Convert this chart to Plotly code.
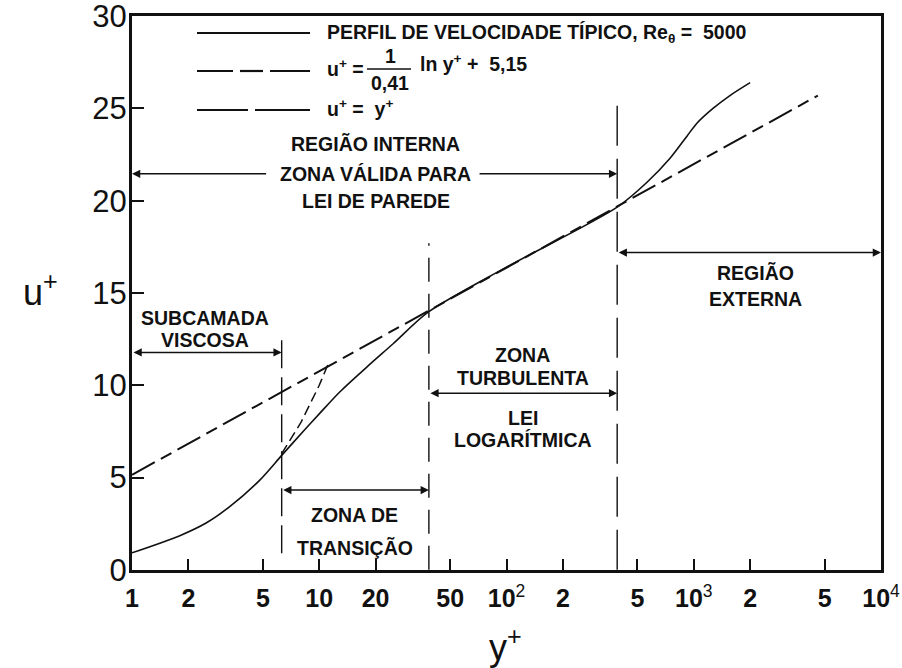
import math
import plotly.graph_objects as go

# ---------------- data ----------------
profile_yplus = [1, 1.8, 2.5, 3.3, 4.8, 6.3, 8.2, 10, 12.9, 18, 24.8, 38, 100,
                 390, 563, 747, 920, 1040, 1267, 1560, 2000]
profile_uplus = [0.92, 1.85, 2.55, 3.4, 4.85, 6.2, 7.5, 8.45, 9.65, 11.0, 12.25, 13.95, 16.4,
                 19.65, 21.0, 22.3, 23.5, 24.2, 25.0, 25.7, 26.4]

loglaw_yplus = [1, 4600]
loglaw_uplus = [5.15, 25.7]

linear_yplus = [6.3, 8, 10, 11.1]
linear_uplus = [6.3, 8, 10, 11.1]

boundary_yplus = [6.3, 38.5, 390]
boundary_bottom = [0.9, 0.0, 0.0]
boundary_top = [12.5, 17.7, 25.3]

x_tickvals = [1, 2, 5, 10, 20, 50, 100, 200, 500, 1000, 2000, 5000, 10000]
x_ticktext = ["<b>1</b>", "<b>2</b>", "<b>5</b>", "<b>10</b>", "<b>20</b>", "<b>50</b>",
              "<b>10</b><sup>2</sup>", "<b>2</b>", "<b>5</b>",
              "<b>10</b><sup>3</sup>", "<b>2</b>", "<b>5</b>", "<b>10</b><sup>4</sup>"]
y_tickvals = [0, 5, 10, 15, 20, 25, 30]

# double arrows: (start y+, end y+, u+)
region_arrows = [(1, 6.3, 11.78), (6.3, 38.5, 4.32), (38.5, 390, 9.57), (390, 10000, 17.19)]
# single arrows of the inner region (head y+, tail y+, u+)
inner_arrows = [(1, 5.3, 21.46), (390, 70.5, 21.46)]

region_labels = [
    ("REGIÃO INTERNA", 20, 23.08),
    ("ZONA VÁLIDA PARA", 20, 21.46),
    ("LEI DE PAREDE", 20, 20.0),
    ("SUBCAMADA", 2.45, 13.62),
    ("VISCOSA", 2.45, 12.43),
    ("ZONA DE", 15.5, 2.97),
    ("TRANSIÇÃO", 15.5, 1.19),
    ("ZONA", 122, 11.62),
    ("TURBULENTA", 122, 10.38),
    ("LEI", 122, 8.22),
    ("LOGARÍTMICA", 122, 7.03),
    ("REGIÃO", 2125, 16.1),
    ("EXTERNA", 2125, 14.7),
]

FONT = "Liberation Sans, Arial, sans-serif"
BLACK = "#111111"

# plot-area pixel geometry (for paper placement of the legend block)
L, R, T, B = 132, 881, 16, 570
W, H = 902, 668


def px(x):
    return (x - L) / (R - L)


def py(y):
    return (B - y) / (B - T)


fig = go.Figure()

fig.add_trace(go.Scatter(x=profile_yplus, y=profile_uplus, mode="lines",
                         line=dict(color=BLACK, width=1.6, shape="spline", smoothing=0.8),
                         showlegend=False, hoverinfo="skip"))
fig.add_trace(go.Scatter(x=loglaw_yplus, y=loglaw_uplus, mode="lines",
                         line=dict(color=BLACK, width=2, dash="26px,7px,12px,7px"),
                         showlegend=False, hoverinfo="skip"))
fig.add_trace(go.Scatter(x=linear_yplus, y=linear_uplus, mode="lines",
                         line=dict(color=BLACK, width=1.5, dash="10px,5px"),
                         showlegend=False, hoverinfo="skip"))

dashes = ["28px,9px", "24px,12px", "40px,13px"]
for xb, y0, y1, d in zip(boundary_yplus, boundary_bottom, boundary_top, dashes):
    fig.add_trace(go.Scatter(x=[xb, xb], y=[y0, y1], mode="lines",
                             line=dict(color=BLACK, width=1.4, dash=d),
                             showlegend=False, hoverinfo="skip"))

annotations = []
for x0, x1, u in region_arrows:
    annotations.append(dict(x=math.log10(x1), y=u, ax=math.log10(x0), ay=u,
                            xref="x", yref="y", axref="x", ayref="y", text="",
                            showarrow=True, arrowhead=2, arrowsize=1.1, arrowwidth=1.5,
                            arrowcolor=BLACK, arrowside="end+start"))
for xh, xt, u in inner_arrows:
    annotations.append(dict(x=math.log10(xh), y=u, ax=math.log10(xt), ay=u,
                            xref="x", yref="y", axref="x", ayref="y", text="",
                            showarrow=True, arrowhead=2, arrowsize=1.1, arrowwidth=1.5,
                            arrowcolor=BLACK))

for txt, xv, u in region_labels:
    annotations.append(dict(x=math.log10(xv), y=u, xref="x", yref="y", text=f"<b>{txt}</b>",
                            showarrow=False, xanchor="center", yanchor="middle",
                            font=dict(family=FONT, size=19.5, color=BLACK)))

# legend block (drawn manually)
leg_font = dict(family=FONT, size=19.5, color=BLACK)
annotations += [
    dict(x=px(325), y=py(33), xref="paper", yref="paper", xanchor="left", yanchor="middle",
         text="<b>PERFIL DE VELOCIDADE TÍPICO, Re<sub>θ</sub> =  5000</b>", showarrow=False, font=leg_font),
    dict(x=px(325), y=py(68), xref="paper", yref="paper", xanchor="left", yanchor="middle",
         text="<b>u<sup>+</sup> =</b>", showarrow=False, font=leg_font),
    dict(x=px(390), y=py(56), xref="paper", yref="paper", xanchor="center", yanchor="middle",
         text="<b>1</b>", showarrow=False, font=leg_font),
    dict(x=px(390), y=py(83), xref="paper", yref="paper", xanchor="center", yanchor="middle",
         text="<b>0,41</b>", showarrow=False, font=leg_font),
    dict(x=px(418), y=py(63), xref="paper", yref="paper", xanchor="left", yanchor="middle",
         text="<b>ln y<sup>+</sup> +  5,15</b>", showarrow=False, font=leg_font),
    dict(x=px(325), y=py(108), xref="paper", yref="paper", xanchor="left", yanchor="middle",
         text="<b>u<sup>+</sup> =  y<sup>+</sup></b>", showarrow=False, font=leg_font),
    # axis titles
    dict(x=px(40), y=py(290), xref="paper", yref="paper", xanchor="center", yanchor="middle",
         text="u<sup>+</sup>", showarrow=False, font=dict(family=FONT, size=36, color=BLACK)),
    dict(x=px(505), y=py(645), xref="paper", yref="paper", xanchor="center", yanchor="middle",
         text="y<sup>+</sup>", showarrow=False, font=dict(family=FONT, size=36, color=BLACK)),
]

shapes = []
for x0, x1, yy in [(197, 310, 33), (197, 233, 71), (240, 263, 71), (270, 310, 71),
                   (197, 248, 110), (255, 310, 110), (367, 411, 69)]:
    shapes.append(dict(type="line", xref="paper", yref="paper", x0=px(x0), x1=px(x1),
                       y0=py(yy), y1=py(yy), line=dict(color=BLACK, width=2.2 if yy != 69 else 1.5)))

fig.update_layout(
    width=W, height=H,
    margin=dict(l=L, r=W - R, t=T, b=H - B, pad=0, autoexpand=False),
    paper_bgcolor="white", plot_bgcolor="white",
    showlegend=False,
    annotations=annotations,
    shapes=shapes,
    xaxis=dict(type="log", range=[0, 4], tickvals=x_tickvals, ticktext=x_ticktext,
               ticks="inside", ticklen=11, tickwidth=1.5, tickcolor=BLACK,
               showline=True, linewidth=3, linecolor=BLACK, mirror=True,
               showgrid=False, zeroline=False, automargin=False, ticklabeloverflow="allow",
               tickfont=dict(family=FONT, size=25, color=BLACK), ticklabelstandoff=4),
    yaxis=dict(range=[-0.01, 30.01], tickvals=y_tickvals,
               ticks="inside", ticklen=12, tickwidth=1.5, tickcolor=BLACK,
               showline=True, linewidth=3, linecolor=BLACK, mirror=True,
               showgrid=False, zeroline=False, automargin=False, ticklabeloverflow="allow",
               tickfont=dict(family=FONT, size=31, color=BLACK), ticklabelstandoff=-4),
)

fig.write_html("out.html")
